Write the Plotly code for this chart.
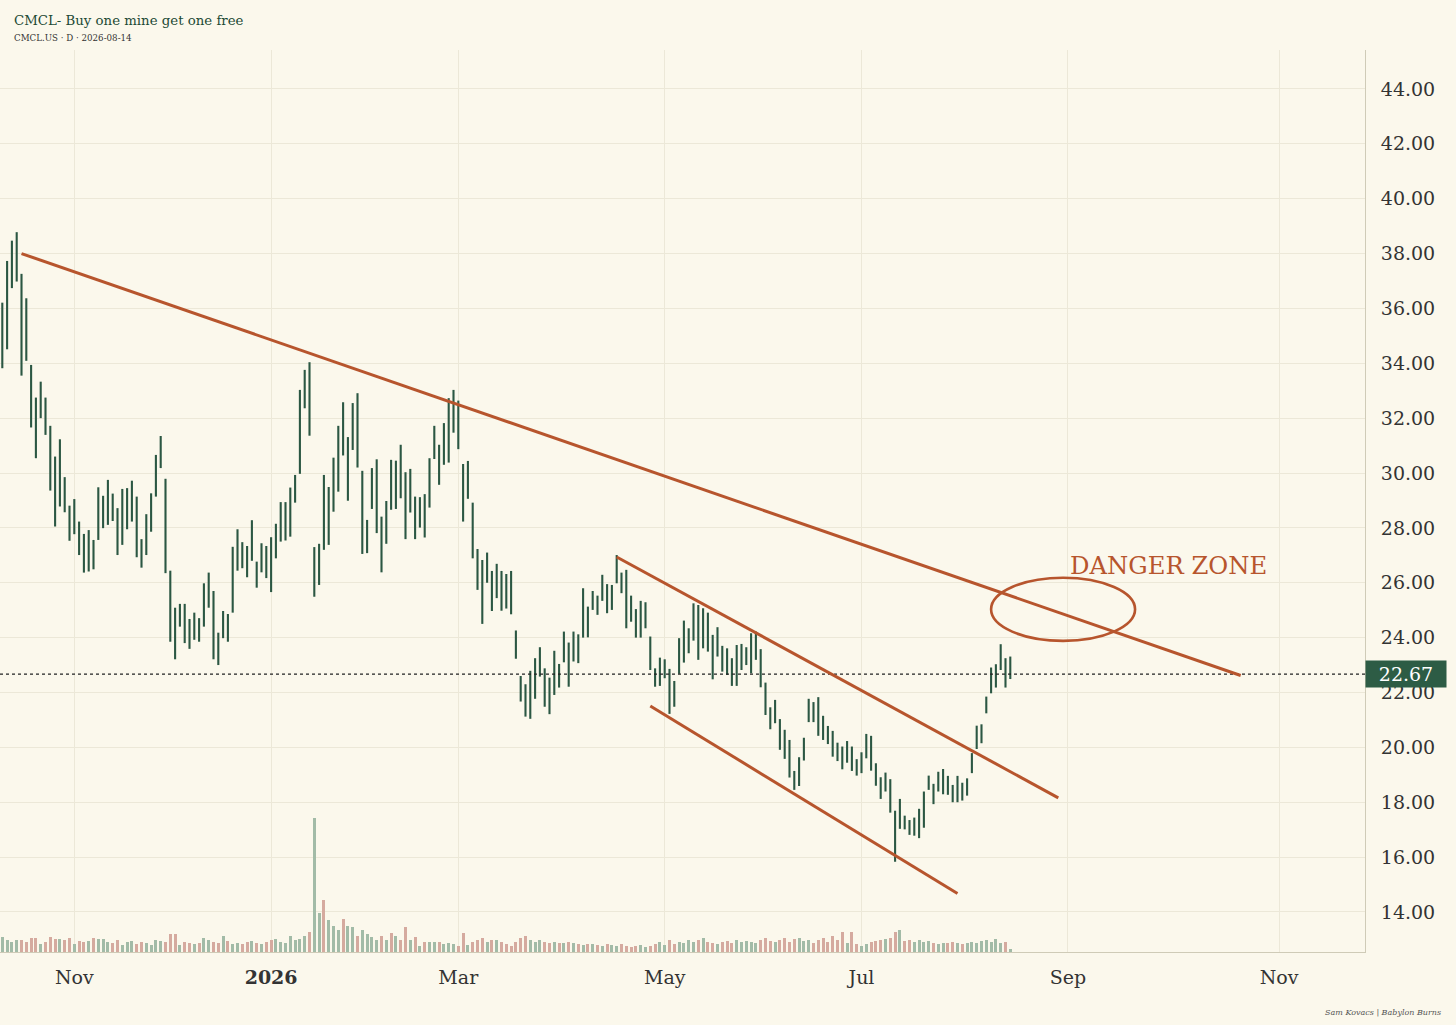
import pandas as pd
import plotly.graph_objects as go

# ---------------- data ----------------
holidays = ["2025-11-27", "2025-12-25", "2026-01-01", "2026-01-19", "2026-02-16",
            "2026-04-03", "2026-05-25", "2026-06-19", "2026-07-03"]
first_day = "2025-10-13"
last_day = "2026-08-14"

highs = [36.21, 37.73, 38.47, 38.78, 37.26, 36.37, 33.94, 32.75, 33.33, 32.75,
         31.72, 30.60, 31.23, 29.85, 28.81, 29.05, 28.23, 27.78, 27.92, 27.56,
         29.48, 29.17, 29.75, 29.25, 28.72, 29.42, 29.45, 29.72, 29.14, 27.59,
         28.50, 29.26, 30.66, 31.35, 29.79, 26.44, 25.09, 25.23, 25.23, 24.68,
         24.91, 24.71, 25.98, 26.37, 25.70, 24.18, 24.97, 24.86, 27.31, 27.95,
         27.48, 27.34, 28.28, 26.77, 27.44, 27.34, 27.66, 28.15, 28.94, 28.94,
         29.47, 29.93, 33.03, 33.76, 34.04, 27.30, 27.42, 29.93, 29.49, 30.56,
         31.72, 32.58, 31.31, 32.55, 32.91, 30.08, 28.29, 30.18, 30.50, 28.41,
         28.98, 30.48, 30.45, 31.03, 30.03, 30.15, 29.14, 29.12, 29.23, 30.54,
         31.72, 31.03, 31.82, 32.73, 33.03, 32.64, 30.33, 30.44, 28.92, 27.23,
         26.83, 27.10, 26.43, 26.69, 26.43, 26.32, 26.43, 24.26, 22.60, 22.30,
         22.79, 23.25, 23.65, 22.88, 22.54, 23.52, 23.04, 24.22, 23.82, 24.22,
         24.12, 25.80, 25.13, 25.70, 25.53, 26.29, 25.95, 25.92, 27.01, 26.37,
         26.47, 25.53, 25.04, 25.34, 25.29, 24.04, 22.88, 23.27, 23.21, 22.86,
         22.42, 23.98, 24.62, 24.34, 25.25, 25.19, 25.07, 24.91, 24.10, 24.38,
         23.70, 23.61, 23.25, 23.73, 23.77, 23.65, 24.16, 24.22, 23.58, 22.36,
         21.46, 21.73, 21.03, 20.64, 20.27, 19.14, 19.64, 20.35, 21.77, 21.65,
         21.83, 21.15, 20.78, 20.60, 20.17, 20.03, 20.23, 20.03, 19.57, 19.82,
         20.49, 20.42, 19.42, 18.91, 19.08, 18.84, 17.69, 18.12, 17.51, 17.35,
         17.44, 17.76, 18.39, 18.97, 18.67, 19.11, 19.21, 18.96, 18.63, 18.96,
         18.71, 18.87, 19.79, 20.79, 20.84, 21.85, 22.91, 23.03, 23.76, 23.25, 23.31]

lows = [33.82, 34.51, 36.74, 36.98, 33.55, 34.09, 31.66, 30.54, 32.00, 31.39,
        29.36, 28.05, 28.78, 28.57, 27.53, 27.77, 27.01, 26.37, 26.41, 26.49,
        27.56, 27.99, 28.11, 28.25, 27.01, 27.38, 27.95, 28.23, 26.93, 26.55,
        27.01, 27.86, 29.14, 30.18, 26.35, 23.85, 23.21, 24.40, 23.80, 23.59,
        23.92, 23.85, 24.40, 25.09, 23.21, 23.00, 23.98, 23.85, 24.91, 26.44,
        26.53, 26.20, 26.80, 25.82, 26.38, 26.17, 25.66, 26.89, 27.50, 27.54,
        27.68, 28.92, 29.97, 32.36, 31.36, 25.49, 25.92, 27.20, 27.38, 28.59,
        29.32, 30.64, 28.99, 30.84, 30.20, 27.05, 27.08, 28.69, 27.81, 26.38,
        27.42, 28.66, 28.69, 29.08, 27.59, 28.56, 27.59, 28.01, 27.65, 28.74,
        30.51, 29.57, 30.30, 30.38, 31.47, 30.87, 28.23, 29.06, 26.89, 25.74,
        24.50, 26.00, 24.97, 25.44, 24.98, 25.06, 24.85, 23.23, 21.67, 21.12,
        21.04, 21.77, 22.58, 21.48, 21.21, 21.91, 22.18, 23.10, 22.21, 23.13,
        23.07, 24.00, 24.01, 25.01, 24.83, 25.34, 24.89, 25.01, 25.98, 25.62,
        24.34, 24.58, 24.00, 24.00, 24.34, 22.82, 22.21, 22.24, 22.52, 21.22,
        21.48, 22.68, 23.09, 23.43, 23.89, 23.19, 23.61, 23.49, 22.48, 23.31,
        22.76, 22.64, 22.24, 22.24, 22.82, 23.00, 22.70, 23.19, 22.19, 21.18,
        20.66, 20.88, 19.91, 19.58, 18.90, 18.45, 18.59, 19.52, 20.92, 20.92,
        20.42, 20.27, 20.12, 19.66, 19.50, 19.20, 19.44, 19.14, 18.97, 19.06,
        19.60, 19.15, 18.60, 18.12, 18.39, 17.62, 15.83, 17.03, 17.01, 16.81,
        16.78, 16.69, 17.07, 18.45, 17.93, 18.39, 18.29, 18.27, 18.00, 18.00,
        18.06, 18.24, 19.06, 19.94, 20.15, 21.24, 21.97, 22.18, 22.82, 22.18, 22.49]

# volume, thousands of shares
volume_k = [300, 240, 200, 240, 240, 200, 280, 280, 160, 200, 300, 260, 260, 240, 280, 160, 220, 200, 220, 280,
            260, 260, 200, 180, 240, 140, 200, 220, 160, 200, 180, 140, 240, 220, 200, 360, 360, 140, 200, 180,
            160, 180, 280, 240, 200, 180, 320, 220, 160, 180, 160, 200, 220, 180, 160, 200,
            240, 260, 200, 180, 320, 240, 260, 320, 400,
            2680, 780, 1040, 640, 520, 440, 660, 520, 500, 320, 440, 360, 300, 240, 320,
            240, 380, 320, 240, 500, 240, 300, 120, 200, 200, 200, 200, 160, 180, 160, 120, 380, 140, 200, 240,
            280, 200, 240, 240, 200, 160, 120, 200, 280, 320, 240, 200, 240, 200, 180, 200, 180, 180, 200, 180,
            160, 140, 160, 160, 140, 120, 160, 140, 120, 160, 120, 100, 120, 140, 100, 120, 160, 200, 140, 240,
            160, 200, 180, 240, 200, 240, 280, 200, 180, 160, 200, 220, 180, 240, 200, 220, 200, 180, 240, 280,
            220, 200, 240, 280, 200, 260, 280, 220, 240, 180, 240, 280, 200, 320, 240, 400, 180, 400, 160, 120,
            160, 200, 220, 240, 260, 280, 400, 440, 220, 240, 200, 240, 200, 220, 180, 160, 180, 180, 200, 180,
            160, 180, 200, 180, 220, 240, 200, 260, 180, 200, 60]

# the rest follow the bar's mid-range change
volume_side = {66: "u", 67: "u", 68: "d", 69: "u", 70: "u", 71: "u", 72: "d", 73: "u", 74: "u",
               75: "d", 76: "u", 77: "u", 78: "u", 79: "u", 80: "d", 81: "u", 82: "d", 83: "u",
               84: "d", 85: "d", 86: "u", 87: "d"}

last_price = 22.67

tick_dates = ["2025-11-03", "2026-01-02", "2026-03-02", "2026-05-01", "2026-07-01", "2026-09-01", "2026-11-02"]
tick_labels = ["Nov", "<b>2026</b>", "Mar", "May", "Jul", "Sep", "Nov"]
price_ticks = [14, 16, 18, 20, 22, 24, 26, 28, 30, 32, 34, 36, 38, 40, 42, 44]

# hand-drawn annotations (date, price)
trend_lines = [
    [("2025-10-17", 38.00), ("2026-10-21", 22.62)],
    [("2026-04-17", 26.94), ("2026-08-28", 18.16)],
    [("2026-04-28", 21.51), ("2026-07-30", 14.67)],
]
danger_ellipse = [("2026-08-10", 23.88), ("2026-09-21", 26.18)]
danger_label = ("2026-09-01", 26.62, "DANGER ZONE")

title = "CMCL- Buy one mine get one free"
subtitle = "CMCL.US · D · 2026-08-14"
credit = "Sam Kovacs | Babylon Burns"

# ---------------- calendar ----------------
hist = pd.bdate_range(first_day, last_day, freq="C", holidays=holidays)
future = pd.bdate_range("2026-08-17", "2026-12-31", freq="B")
calendar = [d.strftime("%Y-%m-%d") for d in list(hist) + list(future)]
pos = {d: i for i, d in enumerate(calendar)}
n = len(highs)

# ---------------- style ----------------
BG = "#fbf8ec"
GRID = "#ece8d8"
AXIS = "#cfcbb7"
BARC = "#2b5743"
RUST = "#b7552d"
TXT = "#333333"
SERIF = "DejaVu Serif"
VOL_UP = "#a2bba7"
VOL_DN = "#d5aa9f"

# ---------------- figure ----------------
fig = go.Figure()

mids = [(h + l) / 2 for h, l in zip(highs, lows)]
vcolors = []
for i in range(n):
    side = volume_side.get(i + 1)
    if side is None:
        side = "u" if i == 0 or mids[i] >= mids[i - 1] else "d"
    vcolors.append(VOL_UP if side == "u" else VOL_DN)
fig.add_trace(go.Bar(x=list(range(n)), y=volume_k, marker=dict(color=vcolors, line=dict(width=0)),
                     width=0.62, yaxis="y2", hoverinfo="skip"))

xs, ys = [], []
for i, (h, l) in enumerate(zip(highs, lows)):
    xs += [i, i, None]
    ys += [l, h, None]
fig.add_trace(go.Scatter(x=xs, y=ys, mode="lines", line=dict(color=BARC, width=2.1),
                         hoverinfo="skip", yaxis="y"))

shapes = []
shapes.append(dict(type="line", xref="paper", yref="y", x0=0, x1=1, y0=last_price, y1=last_price,
                   line=dict(color="#222222", width=1.3, dash="3px,3px"), layer="above"))
for (d0, p0), (d1, p1) in trend_lines:
    shapes.append(dict(type="line", xref="x", yref="y", x0=pos[d0], y0=p0, x1=pos[d1], y1=p1,
                       line=dict(color=RUST, width=3)))
(e0, ep0), (e1, ep1) = danger_ellipse
shapes.append(dict(type="circle", xref="x", yref="y", x0=pos[e0], y0=ep0, x1=pos[e1], y1=ep1,
                   line=dict(color=RUST, width=2.6)))

annotations = [
    dict(xref="paper", yref="paper", x=0, y=1, xanchor="left", yanchor="middle", xshift=12, yshift=30,
         text=title, showarrow=False, font=dict(family=SERIF, size=13.3, color="#1d4a35")),
    dict(xref="paper", yref="paper", x=0, y=1, xanchor="left", yanchor="middle", xshift=12, yshift=12,
         text=subtitle, showarrow=False, font=dict(family=SERIF, size=8.7, color=TXT)),
    dict(xref="x", yref="y", x=pos[danger_label[0]], y=danger_label[1], xanchor="left", yanchor="middle",
         text=danger_label[2], showarrow=False, font=dict(family=SERIF, size=24.3, color=RUST)),
    dict(xref="paper", yref="y", x=1, y=last_price, xanchor="left", yanchor="middle",
         text=f"{last_price:.2f}", showarrow=False, bgcolor="#2d5c45", width=78, height=24, borderpad=1,
         font=dict(family=SERIF, size=19, color="#ffffff")),
    dict(xref="paper", yref="paper", x=1, y=0, xanchor="right", yanchor="middle", xshift=78, yshift=-60,
         text=f"<i>{credit}</i>", showarrow=False, font=dict(family=SERIF, size=8, color="#555555")),
]

fig.update_layout(
    width=1456, height=1025,
    margin=dict(l=0, r=91, t=50, b=73),
    paper_bgcolor=BG, plot_bgcolor=BG,
    showlegend=False, bargap=0,
    shapes=shapes, annotations=annotations,
    xaxis=dict(range=[-0.48, 283.9], tickmode="array",
               tickvals=[pos[d] for d in tick_dates], ticktext=tick_labels,
               showgrid=True, gridcolor=GRID, gridwidth=1, zeroline=False,
               showline=True, linecolor=AXIS, linewidth=1, ticks="",
               tickfont=dict(family=SERIF, size=19, color=TXT), ticklabelstandoff=8),
    yaxis=dict(side="right", range=[12.54, 45.42], tickmode="array", tickvals=price_ticks,
               ticktext=[f"{v:.2f}" for v in price_ticks],
               showgrid=True, gridcolor=GRID, gridwidth=1, zeroline=False,
               showline=True, linecolor=AXIS, linewidth=1, ticks="",
               tickfont=dict(family=SERIF, size=19, color=TXT), ticklabelstandoff=11),
    yaxis2=dict(overlaying="y", range=[0, 18040], visible=False, fixedrange=True),
)

fig.write_html("out.html", config={"displayModeBar": False},
               post_script="document.body.style.margin='0';document.body.style.overflow='hidden';")
